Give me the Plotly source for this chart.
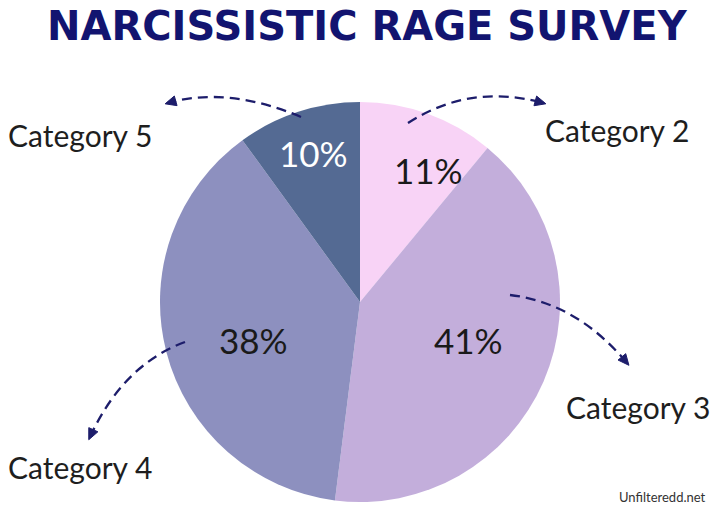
import math
import plotly.graph_objects as go

# ---- data ----
categories = ["Category 2", "Category 3", "Category 4", "Category 5"]
values = [11, 41, 38, 10]
slice_colors = ["#F8D3F6", "#C3AEDB", "#8D90BF", "#546A93"]
text_colors = ["#1a1a1a", "#1a1a1a", "#1a1a1a", "#ffffff"]
title_text = "NARCISSISTIC RAGE SURVEY"
source_text = "Unfilteredd.net"

W, H = 720, 510
cx, cy, R = 360, 302, 200

fig = go.Figure()
fig.add_trace(go.Pie(
    labels=categories,
    values=values,
    sort=False,
    direction="clockwise",
    rotation=0,
    marker=dict(colors=slice_colors, line=dict(width=0)),
    textinfo="none",
    hole=0,
    showlegend=False,
    domain=dict(x=[(cx - R) / W, (cx + R) / W], y=[(H - cy - R) / H, (H - cy + R) / H]),
))

# label placement (pixel coords)
pct_pos = [(428, 170), (468, 340), (253, 340), (313, 153)]
label_pos = {
    "Category 5": (80, 135),
    "Category 2": (617, 130),
    "Category 3": (638, 407),
    "Category 4": (80, 467),
}
arrows = [
    ((301, 117), (228, 86), (168, 103)),
    ((408, 123), (470, 83), (543, 103)),
    ((510, 295), (577, 303), (627, 363)),
    ((185, 342), (123, 365), (90, 437)),
]
navy = "#1d1d6b"
shapes = []
for (p0, c, p1) in arrows:
    shapes.append(dict(
        type="path", xref="x", yref="y",
        path=f"M {p0[0]},{p0[1]} Q {c[0]},{c[1]} {p1[0]},{p1[1]}",
        line=dict(color=navy, width=2.3, dash="10px,6px"),
    ))
    dx, dy = p1[0] - c[0], p1[1] - c[1]
    L = math.hypot(dx, dy)
    ux, uy = dx / L, dy / L
    tipx, tipy = p1[0] + ux * 3, p1[1] + uy * 3
    bx, by = tipx - ux * 11, tipy - uy * 11
    px, py = -uy * 5, ux * 5
    shapes.append(dict(
        type="path", xref="x", yref="y",
        path=f"M {tipx},{tipy} L {bx+px},{by+py} L {bx-px},{by-py} Z",
        fillcolor=navy, line=dict(color=navy, width=1),
    ))

total = sum(values)
annotations = []
for v, (x, y), col in zip(values, pct_pos, text_colors):
    annotations.append(dict(
        x=x, y=y, xref="x", yref="y", text=f"{round(100 * v / total)}%", showarrow=False,
        font=dict(family="Lato", size=35, color=col),
        xanchor="center", yanchor="middle",
    ))
for name in categories:
    x, y = label_pos[name]
    annotations.append(dict(
        x=x, y=y, xref="x", yref="y", text=name, showarrow=False,
        font=dict(family="Lato", size=30, color="#1e1e1e"),
        xanchor="center", yanchor="middle",
    ))
annotations.append(dict(
    x=W / 2 + 7, y=26, xref="x", yref="y", text=f"<b>{title_text}</b>", showarrow=False,
    font=dict(family="DejaVu Sans", size=40, color="#121470"),
    xanchor="center", yanchor="middle",
))
annotations.append(dict(
    x=708, y=497, xref="x", yref="y", text=source_text, showarrow=False,
    font=dict(family="Lato", size=13, color="#333333"),
    xanchor="right", yanchor="middle",
))

fig.update_layout(
    width=W, height=H,
    margin=dict(l=0, r=0, t=0, b=0),
    paper_bgcolor="white", plot_bgcolor="rgba(0,0,0,0)",
    xaxis=dict(range=[0, W], visible=False, fixedrange=True),
    yaxis=dict(range=[H, 0], visible=False, fixedrange=True),
    shapes=shapes,
    annotations=annotations,
)

fig.write_html("out.html")
